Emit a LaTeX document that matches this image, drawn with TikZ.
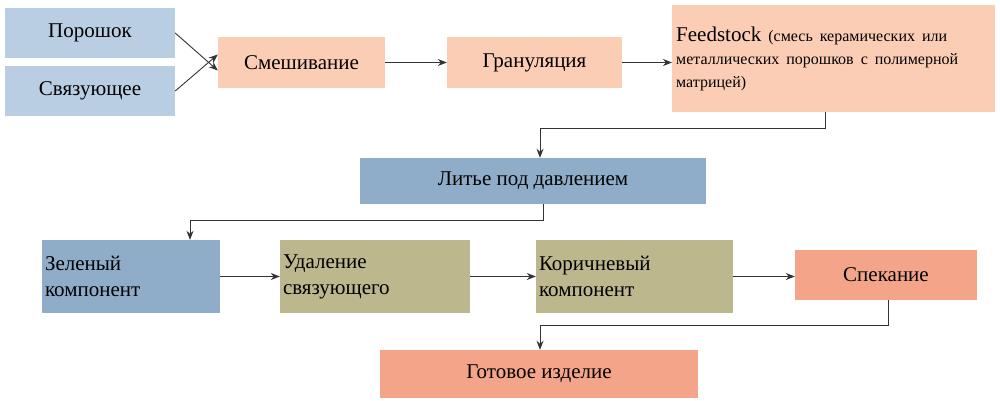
\documentclass[tikz,border=0pt]{standalone}
\usepackage{fontspec}
\setmainfont{Liberation Serif}
\usetikzlibrary{arrows.meta}
\definecolor{lblue}{HTML}{B9CDE3}
\definecolor{peach}{HTML}{FBCDB5}
\definecolor{sblue}{HTML}{8FADC9}
\definecolor{khaki}{HTML}{BDB78E}
\definecolor{salmon}{HTML}{F4A488}
\begin{document}
\begin{tikzpicture}[x=1pt,y=-1pt,
  box/.style={draw=none,inner sep=2pt,font=\fontsize{21}{23}\selectfont},
  arr/.style={draw=black!80,line width=0.9pt,-{Stealth[length=9pt,width=7pt]}}]
\useasboundingbox[fill=white] (0,0) rectangle (1000,401);
\node[box,fill=lblue,minimum width=170,minimum height=50] (por) at (90,33) {Порошок};
\node[box,fill=lblue,minimum width=170,minimum height=50] (svy) at (90,91) {Связующее};
\node[box,fill=peach,minimum width=167,minimum height=51] (sme) at (301.5,62.5) {Смешивание};
\node[box,fill=peach,minimum width=175,minimum height=51] (gra) at (534.5,62.5) {Грануляция};
\node[box,fill=peach,minimum width=323,minimum height=107,text width=315,align=left,anchor=north west,inner sep=4pt] (fee) at (672,5)
  {\rule{0pt}{16pt}Feedstock {\fontsize{16}{22}\selectfont (смесь керамических или металлических порошков с полимерной матрицей)}};
\node[box,fill=sblue,minimum width=346,minimum height=46] (lit) at (533,181) {Литье под давлением};
\node[box,fill=sblue,minimum width=178,minimum height=73,text width=172,align=left,font=\fontsize{21}{26}\selectfont] (zel) at (131,276.5) {Зеленый\\компонент};
\node[box,fill=khaki,minimum width=190,minimum height=73,text width=184,align=left,font=\fontsize{21}{26}\selectfont] (uda) at (375,276.5) {Удаление\\связующего};
\node[box,fill=khaki,minimum width=197,minimum height=73,text width=191,align=left,font=\fontsize{21}{26}\selectfont] (kor) at (634.5,276.5) {Коричневый\\компонент};
\node[box,fill=salmon,minimum width=182,minimum height=50] (spe) at (886,275) {Спекание};
\node[box,fill=salmon,minimum width=318,minimum height=48] (got) at (539,374) {Готовое изделие};
\draw[arr] (por.east) -- ([yshift=-8]sme.west);
\draw[arr] (svy.east) -- ([yshift=8]sme.west);
\draw[arr] (sme) -- (gra);
\draw[arr] (gra.east) -- (gra.east -| fee.west);
\draw[arr] (fee.south -| 825,0) |- (540,128) -- (lit.north -| 540,0);
\draw[arr] (lit.south -| 543,0) |- (190,220) -- (zel.north -| 190,0);
\draw[arr] (zel.east) -- (uda.west);
\draw[arr] (uda.east) -- (kor.west);
\draw[arr] (kor.east) -- (kor.east -| spe.west);
\draw[arr] (spe.south -| 888,0) |- (540,325) -- (got.north -| 540,0);
\end{tikzpicture}
\end{document}
